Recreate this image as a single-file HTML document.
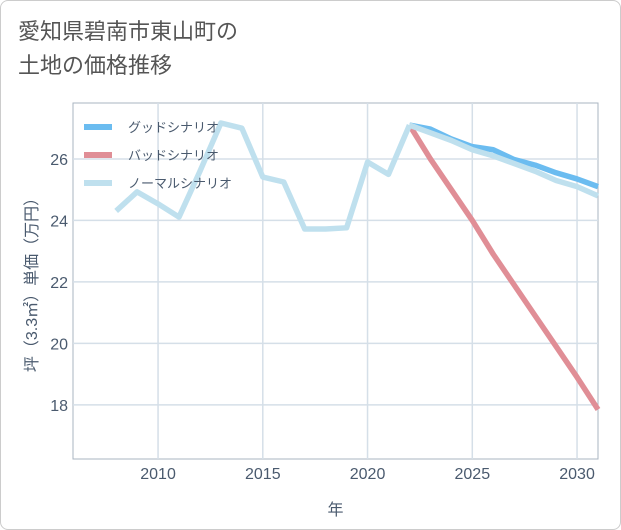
<!DOCTYPE html>
<html><head><meta charset="utf-8"><style>
body{margin:0;background:#fff;font-family:"Liberation Sans","Noto Sans CJK JP",sans-serif;}
#wrap{position:relative;width:619px;height:528px;border:1px solid #ccc;border-radius:8px;overflow:hidden;}
#title{position:absolute;left:17px;top:14px;font-size:22px;line-height:34px;color:#555;}
</style></head><body>
<div id="wrap">
<div id="title">愛知県碧南市東山町の<br>土地の価格推移</div>
<svg id="chart" width="621" height="530" style="position:absolute;left:0;top:0"></svg>
</div>
<script>
const years=[2008,2009,2010,2011,2012,2013,2014,2015,2016,2017,2018,2019,2020,2021,2022];
const histValues=[24.31,24.93,24.54,24.11,25.6,27.17,27.0,25.41,25.25,23.72,23.72,23.76,25.9,25.5,27.1];
const futureYears=[2022,2023,2024,2025,2026,2027,2028,2029,2030,2031];
const goodValues=[27.1,26.97,26.65,26.4,26.3,25.98,25.8,25.55,25.35,25.1];
const badValues=[27.1,26.0,25.0,24.0,22.9,21.9,20.9,19.9,18.9,17.85];
const normalValues=[27.1,26.85,26.6,26.3,26.1,25.85,25.6,25.3,25.1,24.8];
const xTicks=[2010,2015,2020,2025,2030];
const yTicks=[18,20,22,24,26];
const seriesNames=["グッドシナリオ","バッドシナリオ","ノーマルシナリオ"];

const L=72,R=597,T=102,B=458;
const x0=2005.94,x1=2031.0,y0=16.24,y1=27.82;
const X=v=>L+(v-x0)/(x1-x0)*(R-L);
const Y=v=>B-(v-y0)/(y1-y0)*(B-T);
const svg=document.getElementById('chart');
const NS='http://www.w3.org/2000/svg';
function mk(tag,attrs,parent){const e=document.createElementNS(NS,tag);for(const k in attrs)e.setAttribute(k,attrs[k]);(parent||svg).appendChild(e);return e;}

const frame=mk('rect',{x:L,y:T,width:R-L,height:B-T,fill:'none',stroke:'#aab4c0','stroke-width':1});


xTicks.forEach(t=>{
 const g=mk('line',{x1:X(t),x2:X(t),y1:T,y2:B,stroke:'#d5dfe8','stroke-width':1.5});
 
 
 const tx=mk('text',{x:X(t),y:B+20,'text-anchor':'middle','font-size':16,fill:'#4a5a6e'});
 tx.textContent=t;
 
 
});
yTicks.forEach(t=>{
 const g=mk('line',{x1:L,x2:R,y1:Y(t),y2:Y(t),stroke:'#d5dfe8','stroke-width':1.5});
 
 
 const tx=mk('text',{x:L-5,y:Y(t)+6,'text-anchor':'end','font-size':16,fill:'#4a5a6e'});
 tx.textContent=t;
 
 
});
const xt=mk('text',{x:(L+R)/2,y:514,'text-anchor':'middle','font-size':16,fill:'#4a5a6e'});
xt.textContent='年';


const yt=mk('text',{x:0,y:0,'text-anchor':'middle','font-size':16,fill:'#4a5a6e',transform:`translate(36,${(T+B)/2}) rotate(-90)`});
yt.textContent='坪（3.3㎡）単価（万円）';



function line(xs,vs,color,name){
 const p=mk('polyline',{points:xs.map((x,i)=>X(x)+','+Y(vs[i])).join(' '),fill:'none',stroke:color,'stroke-width':5.5,'stroke-linejoin':'round'});
 
 
}
line(futureYears,goodValues,'#6bbcf0','good-scenario-line');
line(futureYears,badValues,'#e08e96','bad-scenario-line');
line(futureYears,normalValues,'#bfe0ee','normal-scenario-line');
line(years,histValues,'#bfe0ee','historical-line');

const colors=['#6bbcf0','#e08e96','#bfe0ee'];
seriesNames.forEach((n,i)=>{
 const y=126+i*28;
 const s=mk('line',{x1:83,x2:111,y1:y,y2:y,stroke:colors[i],'stroke-width':6});
 
 
 const t=mk('text',{x:127,y:y+5,'font-size':13,fill:'#4a5a6e'});
 t.textContent=n;
 
 
});
</script>
</body></html>
